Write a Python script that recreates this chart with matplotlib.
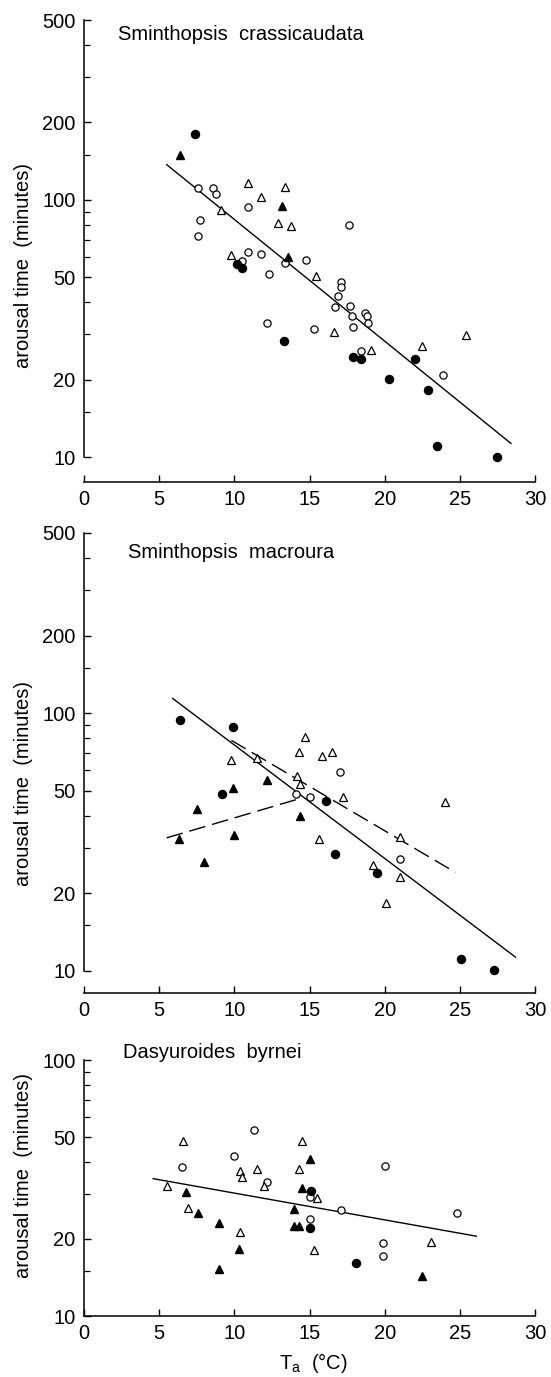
import matplotlib
matplotlib.use("Agg")
import matplotlib.pyplot as plt
from matplotlib.ticker import FixedLocator, NullFormatter, FixedFormatter

# Sminthopsis crassicaudata
p1_fc_x = [7.4, 10.2, 10.5, 13.3, 17.9, 18.4, 22.0, 20.3, 22.9, 23.5, 27.5]
p1_fc_y = [180, 56.4, 54.5, 28.2, 24.4, 24.0, 24.0, 20.2, 18.2, 11.0, 10.0]
p1_ft_x = [6.4, 13.2, 13.6]
p1_ft_y = [150, 95, 60]
p1_ot_x = [10.9, 13.4, 11.8, 9.1, 12.9, 13.8, 9.8, 15.4, 16.6, 19.1, 22.5, 25.4]
p1_ot_y = [116, 112, 103, 91, 81, 79, 61, 50.6, 30.5, 26.1, 27.1, 29.7]
p1_oc_x = [7.6, 8.6, 8.8, 10.9, 7.7, 7.6, 17.6, 10.9, 11.8, 10.5, 14.8, 13.4, 12.3, 17.1,
           17.1, 16.9, 16.7, 17.7, 17.8, 18.7, 18.8, 18.9, 17.9, 12.2, 15.3, 18.4, 23.9]
p1_oc_y = [111, 111, 105.5, 93.6, 83.4, 72.4, 79.7, 62.6, 61.8, 57.7, 58.4, 56.7, 51.5, 48.1,
           45.7, 42.1, 38.2, 38.7, 35.2, 36.4, 35.5, 33.2, 32.0, 33.1, 31.5, 25.9, 20.8]
p1_fit_x = [5.5, 28.4]
p1_fit_y = [137, 11.3]

# Sminthopsis macroura
p2_fc_x = [6.4, 9.9, 9.2, 16.1, 16.7, 19.5, 25.1, 27.3]
p2_fc_y = [94, 88, 48.5, 45.7, 28.3, 24.0, 11.1, 10.1]
p2_ft_x = [9.9, 12.2, 7.5, 6.3, 10.0, 8.0, 14.4]
p2_ft_y = [51.4, 55, 42.6, 32.5, 33.6, 26.4, 39.7]
p2_ot_x = [14.7, 14.3, 15.8, 16.5, 9.8, 11.5, 14.2, 14.4, 17.2, 24.0, 15.6, 21.0, 19.2, 21.0, 20.1]
p2_ot_y = [81, 70.6, 68, 70.4, 66, 66.7, 57.2, 53.2, 47.2, 45.1, 32.4, 33.2, 25.7, 23.2, 18.4]
p2_oc_x = [17.0, 14.1, 15.0, 21.0]
p2_oc_y = [59.2, 48.5, 47.2, 27.1]
p2_fit_x = [5.9, 28.7]
p2_fit_y = [114, 11.3]
p2_open_fit_x = [9.8, 24.7]
p2_open_fit_y = [78.4, 24.1]
p2_tri_fit_x = [5.5, 14.3]
p2_tri_fit_y = [32.8, 46.5]

# Dasyuroides byrnei
p3_oc_x = [11.3, 10.0, 6.5, 20.0, 12.2, 15.0, 17.1, 24.8, 15.0, 19.9, 19.9]
p3_oc_y = [53.4, 42.1, 38.2, 38.5, 33.3, 29.1, 25.9, 25.2, 24.0, 19.2, 17.2]
p3_ot_x = [6.6, 14.5, 10.4, 10.5, 11.5, 14.3, 12.0, 5.5, 15.5, 6.9, 10.4, 15.3, 23.1]
p3_ot_y = [48.1, 48.1, 36.8, 34.8, 37.4, 37.4, 32.3, 32.2, 28.8, 26.4, 21.2, 18.1, 19.5]
p3_ft_x = [15.0, 14.5, 6.8, 14.0, 7.6, 9.0, 14.0, 14.3, 10.3, 9.0, 22.5]
p3_ft_y = [41.2, 31.5, 30.4, 26.2, 25.2, 23.1, 22.4, 22.4, 18.3, 15.2, 14.3]
p3_fc_x = [15.1, 15.0, 18.1]
p3_fc_y = [30.7, 22.1, 16.1]
p3_fit_x = [4.6, 26.1]
p3_fit_y = [34.4, 20.5]

xticks = [0, 5, 10, 15, 20, 25, 30]
yticks_big = [10, 20, 50, 100, 200, 500]
yminor_big = [15, 30, 40, 60, 70, 80, 90, 150, 300, 400]
yticks_small = [10, 20, 50, 100]
yminor_small = [15, 30, 40, 60, 70, 80, 90]

W, H = 551, 1377
plt.rcParams['font.family'] = ['Liberation Sans', 'DejaVu Sans']
plt.rcParams['mathtext.fontset'] = 'custom'
plt.rcParams['mathtext.rm'] = 'Liberation Sans'
plt.rcParams['mathtext.it'] = 'Liberation Sans'
num_font = ['Liberation Sans Narrow', 'Liberation Sans', 'DejaVu Sans']
fs = 14.5

fig = plt.figure(figsize=(W / 100, H / 100), dpi=100)


def rect(left, right, top, bottom):
    return [left / W, 1 - bottom / H, (right - left) / W, (bottom - top) / H]


def panel(r, ylo, yhi, major, minor, offset_axis):
    ax = fig.add_axes(r)
    ax.set_yscale('log')
    ax.set_xlim(0, 30)
    ax.set_ylim(ylo, yhi)
    for s in ['top', 'right']:
        ax.spines[s].set_visible(False)
    ax.spines['left'].set_linewidth(1.1)
    ax.spines['bottom'].set_linewidth(1.1)
    if offset_axis:
        ax.spines['left'].set_bounds(10, yhi)
    ax.xaxis.set_major_locator(FixedLocator(xticks))
    ax.set_xticklabels([str(t) for t in xticks], family=num_font, fontsize=fs)
    ax.yaxis.set_major_locator(FixedLocator(major))
    ax.yaxis.set_major_formatter(FixedFormatter([str(t) for t in major]))
    ax.yaxis.set_minor_locator(FixedLocator(minor))
    ax.yaxis.set_minor_formatter(NullFormatter())
    for lab in ax.get_yticklabels():
        lab.set_family(num_font)
        lab.set_fontsize(fs)
    ax.tick_params(axis='x', direction='in', length=5, width=1, pad=6)
    ax.tick_params(axis='y', which='major', direction='in', length=5, width=1, pad=6)
    ax.tick_params(axis='y', which='minor', direction='in', length=4.5, width=0.9)
    ax.patch.set_visible(False)
    return ax


def symbols(ax, fcx, fcy, ftx, fty, otx, oty, ocx, ocy):
    ax.plot(ocx, ocy, 'o', ms=5.2, mfc='white', mec='black', mew=0.9, zorder=3)
    ax.plot(otx, oty, '^', ms=5.6, mfc='white', mec='black', mew=0.9, zorder=3)
    ax.plot(fcx, fcy, 'o', ms=5.8, color='black', zorder=4)
    ax.plot(ftx, fty, '^', ms=5.6, color='black', zorder=4)


ax1 = panel(rect(84, 535, 20, 482), 8.0, 500, yticks_big, yminor_big, True)
ax1.plot(p1_fit_x, p1_fit_y, color='black', lw=1.0, zorder=2)
symbols(ax1, p1_fc_x, p1_fc_y, p1_ft_x, p1_ft_y, p1_ot_x, p1_ot_y, p1_oc_x, p1_oc_y)

ax2 = panel(rect(84, 535, 533, 993), 8.2, 500, yticks_big, yminor_big, True)
ax2.plot(p2_fit_x, p2_fit_y, color='black', lw=1.0, zorder=2)
ax2.plot(p2_open_fit_x, p2_open_fit_y, color='black', lw=1.0, dashes=(12, 5), zorder=2)
ax2.plot(p2_tri_fit_x, p2_tri_fit_y, color='black', lw=1.0, dashes=(12, 5), zorder=2)
symbols(ax2, p2_fc_x, p2_fc_y, p2_ft_x, p2_ft_y, p2_ot_x, p2_ot_y, p2_oc_x, p2_oc_y)

ax3 = panel(rect(84, 535, 1060, 1316), 10, 100, yticks_small, yminor_small, False)
ax3.plot(p3_fit_x, p3_fit_y, color='black', lw=1.0, zorder=2)
symbols(ax3, p3_fc_x, p3_fc_y, p3_ft_x, p3_ft_y, p3_ot_x, p3_ot_y, p3_oc_x, p3_oc_y)

fig.text(118 / W, 1 - 34 / H, 'Sminthopsis  crassicaudata', fontsize=fs, va='center', ha='left')
fig.text(128 / W, 1 - 552 / H, 'Sminthopsis  macroura', fontsize=fs, va='center', ha='left')
fig.text(123 / W, 1 - 1053 / H, 'Dasyuroides  byrnei', fontsize=fs, va='center', ha='left')

for yc in [265, 783, 1176]:
    fig.text(24 / W, 1 - yc / H, 'arousal time  (minutes)', fontsize=fs, rotation=90,
             va='center', ha='center')

fig.text(313 / W, 1 - 1369 / H, r'T$_{\mathrm{a}}$  (°C)', fontsize=fs, va='baseline', ha='center')

fig.savefig('out.png', dpi=100)
